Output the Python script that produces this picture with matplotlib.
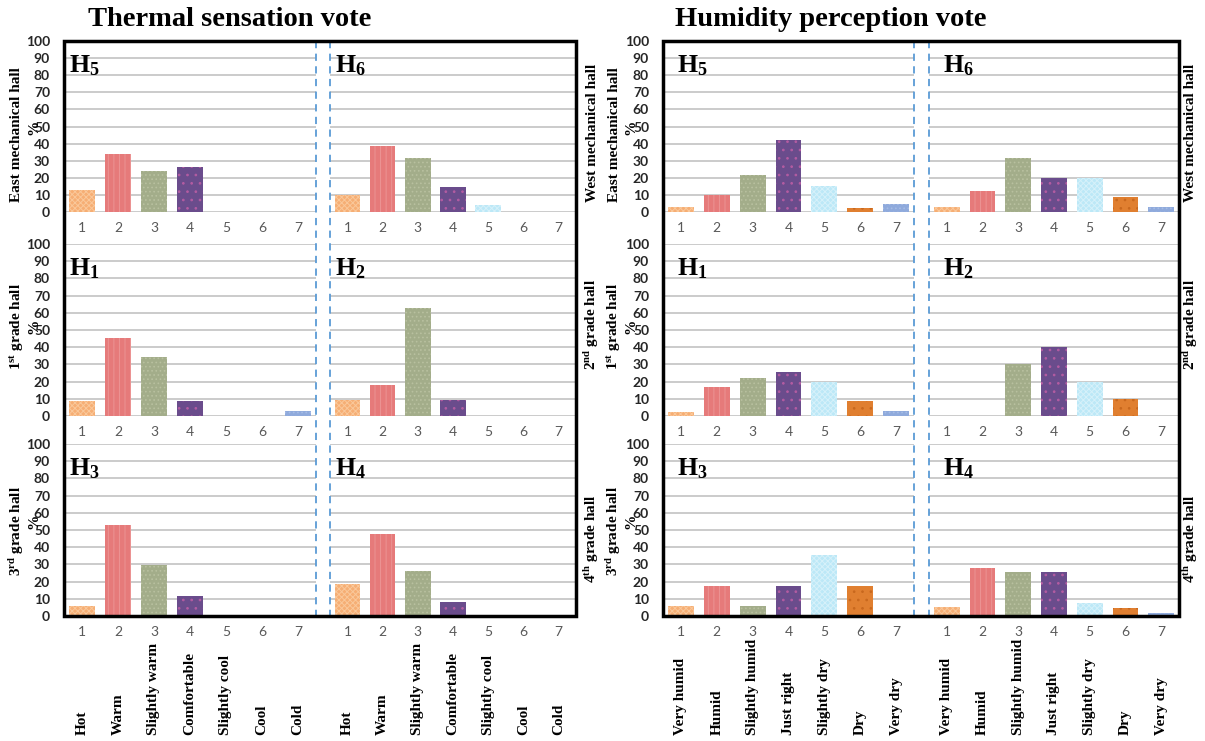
import matplotlib
matplotlib.use('Agg')
import matplotlib.pyplot as plt
from matplotlib import transforms
from matplotlib.patches import Rectangle
from matplotlib.lines import Line2D

W, H = 1205, 741
plt.rcParams['mathtext.fontset'] = 'custom'
plt.rcParams['mathtext.rm'] = 'Liberation Serif:bold'
plt.rcParams['mathtext.it'] = 'Liberation Serif:bold'
plt.rcParams['mathtext.bf'] = 'Liberation Serif:bold'
plt.rcParams['hatch.linewidth'] = 0.7

# ---------------- data ----------------
tick_labels = ['1', '2', '3', '4', '5', '6', '7']
thermal_categories = ['Hot', 'Warm', 'Slightly warm', 'Comfortable',
                      'Slightly cool', 'Cool', 'Cold']
humidity_categories = ['Very humid', 'Humid', 'Slightly humid', 'Just right',
                       'Slightly dry', 'Dry', 'Very dry']

thermal_H5 = [13, 34, 24, 26.5, 0, 0, 0]
thermal_H6 = [10, 38.5, 31.5, 14.7, 4, 0, 0]
thermal_H1 = [8.5, 45.5, 34.3, 8.5, 0, 0, 3]
thermal_H2 = [9.5, 18, 63, 9.5, 0, 0, 0]
thermal_H3 = [6, 53, 29.5, 11.5, 0, 0, 0]
thermal_H4 = [18.5, 47.5, 26, 8, 0, 0, 0]

humidity_H5 = [3, 10, 21.5, 42, 15, 2.2, 4.5]
humidity_H6 = [3, 12.5, 31.5, 20, 20, 9, 2.7]
humidity_H1 = [2.5, 16.7, 22, 25.5, 19.7, 8.5, 3]
humidity_H2 = [0, 0, 30, 40, 20, 10, 0]
humidity_H3 = [6, 17.6, 5.9, 17.6, 35.3, 17.6, 0]
humidity_H4 = [5, 28, 25.5, 25.5, 7.5, 4.5, 1.5]

hall_numbers = [['5', '6'], ['1', '2'], ['3', '4']]
left_hall_labels = ['East mechanical hall', r'1$^{\rm st}$ grade hall', r'3$^{\rm rd}$ grade hall']
right_hall_labels = ['West mechanical hall', r'2$^{\rm nd}$ grade hall', r'4$^{\rm th}$ grade hall']

# ---------------- styles ----------------
bar_colors = ['#F6AE74', '#E67A7A', '#A3AD8A', '#6A4C8C', '#BCE8F7', '#E07F30', '#8FAADC']
hatch_colors = ['#FAC89A', '#EC9494', '#B8C09F', '#B45CA2', '#D6F1FA', '#C8681E', '#A6BCE5']
hatch_styles = ['xxxxxx', '|||', '....', '..', 'xxxxxx', '..', '....']

serif_bold = dict(family='Liberation Serif', weight='bold')

fig = plt.figure(figsize=(W / 100, H / 100), dpi=100)


def fbox(x0, y0, x1, y1):
    return [x0 / W, 1 - y1 / H, (x1 - x0) / W, (y1 - y0) / H]


rows_px = [(41, 212), (244, 416), (444, 616)]
groups = [
    dict(data=[[thermal_H5, thermal_H6], [thermal_H1, thermal_H2], [thermal_H3, thermal_H4]],
         cols=[(64, 316), (330, 576)], cats=thermal_categories, hoff=5,
         title='Thermal sensation vote', tx=230, dash=[316, 330]),
    dict(data=[[humidity_H5, humidity_H6], [humidity_H1, humidity_H2], [humidity_H3, humidity_H4]],
         cols=[(663, 914), (929, 1179)], cats=humidity_categories, hoff=14,
         title='Humidity perception vote', tx=831, dash=[914, 929]),
]

x = list(range(1, 8))
for g in groups:
    for r in range(3):
        for c in range(2):
            x0, x1 = g['cols'][c]
            y0, y1 = rows_px[r]
            ax = fig.add_axes(fbox(x0, y0, x1, y1))
            vals = g['data'][r][c]
            bars = ax.bar(x, vals, width=0.72, linewidth=0, zorder=3)
            for i, b in enumerate(bars):
                b.set_facecolor(bar_colors[i])
                b.set_edgecolor(hatch_colors[i])
                b.set_hatch(hatch_styles[i])
            ax.set_xlim(0.5, 7.5)
            ax.set_ylim(0, 100)
            for s in ax.spines.values():
                s.set_visible(False)
            ax.set_yticks(range(0, 101, 10))
            ax.grid(axis='y', color='#BDBDBD', linewidth=1.1, zorder=0)
            ax.set_axisbelow(True)
            ax.set_xticks(x)
            ax.set_xticklabels(tick_labels, color='#595959', fontsize=10, family='Lato')
            ax.tick_params(length=0)
            ax.tick_params(axis='x', pad=7)
            if c == 0:
                ax.set_yticklabels([str(v) for v in range(0, 101, 10)],
                                   fontsize=10, family='Lato', weight='bold', color='#262626')
                ax.tick_params(axis='y', pad=10)
            else:
                ax.tick_params(axis='y', labelleft=False)
            ax.text(g['hoff'] / (x1 - x0), 0.935, r'$\mathrm{H}_{%s}$' % hall_numbers[r][c],
                    transform=ax.transAxes, fontsize=18.5, ha='left', va='top', zorder=5)
            if r == 2:
                trans = transforms.blended_transform_factory(ax.transData, fig.transFigure)
                for i, lab in enumerate(g['cats']):
                    ax.text(x[i], 1 - 735 / H, lab, transform=trans, rotation=90,
                            ha='center', va='bottom', fontsize=11, **serif_bold)
    # frame
    fx0, fx1 = g['cols'][0][0], g['cols'][1][1]
    fig.add_artist(Rectangle((fx0 / W, 1 - 616 / H), (fx1 - fx0) / W, (616 - 41) / H,
                             transform=fig.transFigure, fill=False, edgecolor='black',
                             linewidth=2.5, zorder=10))
    for dx in g['dash']:
        fig.add_artist(Line2D([dx / W, dx / W], [1 - 41 / H, 1 - 616 / H],
                              transform=fig.transFigure, color='#5B9BD5',
                              linestyle=(0, (4, 3)), linewidth=1.3, zorder=9))
    fig.text(g['tx'] / W, 1 - 19 / H, g['title'], ha='center', va='center',
             fontsize=20.5, **serif_bold)

# y-axis hall labels
label_bottoms = [202, 370, 576]
right_bottoms = [202, 370, 583]
pct_centers = [127, 326, 521]
for r in range(3):
    # thermal left
    fig.text(17 / W, 1 - label_bottoms[r] / H, left_hall_labels[r], rotation=90,
             ha='center', va='bottom', fontsize=11, **serif_bold)
    fig.text(34 / W, 1 - pct_centers[r] / H, '%', rotation=90,
             ha='center', va='center', fontsize=11, **serif_bold)
    # between groups (thermal right / humidity left)
    fig.text(592 / W, 1 - right_bottoms[r] / H, right_hall_labels[r], rotation=90,
             ha='center', va='bottom', fontsize=11, **serif_bold)
    fig.text(614 / W, 1 - label_bottoms[r] / H, left_hall_labels[r], rotation=90,
             ha='center', va='bottom', fontsize=11, **serif_bold)
    fig.text(631 / W, 1 - pct_centers[r] / H, '%', rotation=90,
             ha='center', va='center', fontsize=11, **serif_bold)
    # humidity right
    fig.text(1191 / W, 1 - right_bottoms[r] / H, right_hall_labels[r], rotation=90,
             ha='center', va='bottom', fontsize=11, **serif_bold)

fig.savefig('out.png', dpi=100)
